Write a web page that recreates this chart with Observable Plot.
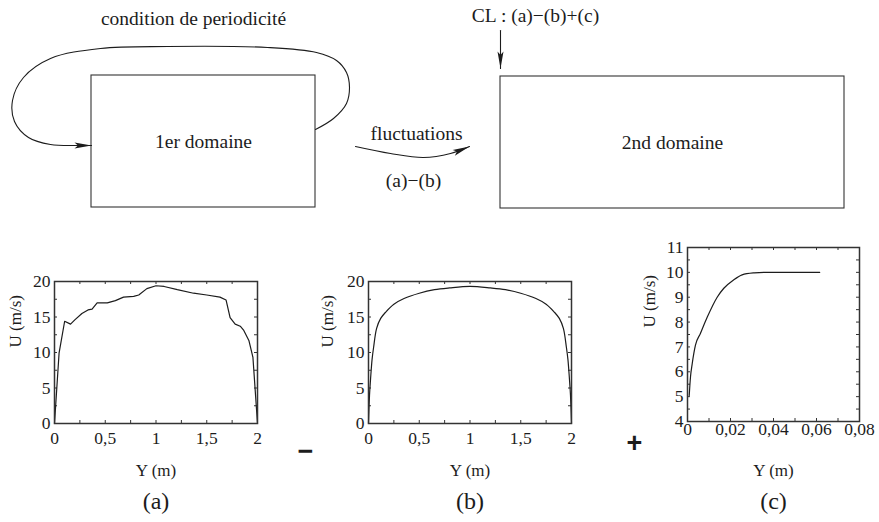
<!DOCTYPE html>
<html>
<head>
<meta charset="utf-8">
<script src="https://cdn.jsdelivr.net/npm/d3@7"></script>
<script src="https://cdn.jsdelivr.net/npm/@observablehq/plot@0.6"></script>
<style>
  body { margin: 0; background: #fff; }
  #fig { position: relative; width: 879px; height: 522px; background: #fff; overflow: hidden; }
  #fig svg { position: absolute; }
</style>
</head>
<body>
<div id="fig"></div>
<script>
// ---- Velocity profiles ----------------------------------------------------
// (a) instantaneous profile from the periodic (1st) domain
const profileA_Y = [0, 0.045, 0.1, 0.158, 0.2, 0.27, 0.33, 0.37, 0.42, 0.52, 0.6, 0.68, 0.78, 0.83, 0.91, 1.0, 1.08, 1.21, 1.37, 1.5, 1.63, 1.69, 1.73, 1.78, 1.83, 1.865, 1.915, 1.955, 2.0];
const profileA_U = [0, 9.9, 14.4, 14.0, 14.6, 15.5, 16.0, 16.1, 17.0, 17.0, 17.3, 17.8, 17.9, 18.1, 19.0, 19.4, 19.3, 18.85, 18.35, 18.1, 17.8, 17.4, 14.9, 14.0, 13.7, 13.1, 11.7, 9.3, 0];

// (b) mean profile
const profileB_Y = [0, 0.01, 0.02, 0.035, 0.05, 0.08, 0.12, 0.17, 0.25, 0.35, 0.5, 0.65, 0.8, 1.0, 1.2, 1.35, 1.5, 1.65, 1.75, 1.83, 1.88, 1.92, 1.95, 1.965, 1.98, 1.99, 2.0];
const profileB_U = [0, 4.0, 6.2, 9.0, 10.7, 13.4, 14.8, 15.7, 16.8, 17.6, 18.35, 18.85, 19.1, 19.3, 19.1, 18.85, 18.35, 17.6, 16.8, 15.7, 14.8, 13.4, 10.7, 9.0, 6.2, 4.0, 0];

// (c) inflow boundary-layer profile
const profileC_Y = [0.0008, 0.0014, 0.0022, 0.0037, 0.006, 0.0092, 0.0138, 0.0169, 0.0215, 0.0254, 0.031, 0.036, 0.045, 0.0615];
const profileC_U = [5.05, 5.8, 6.33, 7.07, 7.54, 8.2, 9.0, 9.36, 9.7, 9.9, 9.98, 10.0, 10.0, 10.0];

// Axis ticks
const ticksAB_x = [0, 0.5, 1, 1.5, 2];
const minorAB_x = [0, 0.25, 0.5, 0.75, 1, 1.25, 1.5, 1.75, 2];
const ticksAB_y = [0, 5, 10, 15, 20];
const minorAB_y = [0, 2.5, 5, 7.5, 10, 12.5, 15, 17.5, 20];
const ticksC_x = [0, 0.02, 0.04, 0.06, 0.08];
const minorC_x = [0, 0.01, 0.02, 0.03, 0.04, 0.05, 0.06, 0.07, 0.08];
const ticksC_y = [4, 5, 6, 7, 8, 9, 10, 11];
const minorC_y = [4, 4.5, 5, 5.5, 6, 6.5, 7, 7.5, 8, 8.5, 9, 9.5, 10, 10.5, 11];

// ---- Schematic of the two computational domains ---------------------------
const domainBoxes = [
  {label: "1er domaine", x1: 91, x2: 315, y1: 75, y2: 207},
  {label: "2nd domaine", x1: 500, x2: 844, y1: 76, y2: 208}
];
const periodicLoop = [
  [315, 129], [333, 118], [346, 103], [349, 87], [346, 72], [336, 60], [316, 52],
  [267, 47], [167, 46], [100, 48], [50, 58], [23, 77], [12, 100], [14, 121],
  [28, 137], [50, 144], [80, 145], [91, 145]
];
const fluctuationPath = [[355, 146], [390, 153], [423, 157], [450, 153], [469, 146]];
const inflowPath = [[500, 30], [500, 68]];
const arrowTips = [
  {x: 91, y: 145, angle: 0},
  {x: 469, y: 146, angle: -22},
  {x: 500, y: 68, angle: 90}
];
const schematicLabels = [
  {text: "condition de periodicité", x: 193, y: 18},
  {text: "CL : (a)−(b)+(c)", x: 535, y: 15},
  {text: "fluctuations", x: 416, y: 133},
  {text: "(a)−(b)", x: 413, y: 180}
];

const ink = "#1c1c1c";
const serif = "'Liberation Serif', 'Times New Roman', serif";

// Slim filled arrowhead, tip at the origin pointing along +x
const arrowHead = {
  draw(context) {
    context.moveTo(0, 0);
    context.lineTo(-17, -3);
    context.lineTo(-13.5, 0);
    context.lineTo(-17, 3);
    context.closePath();
  }
};

const fig = document.getElementById("fig");

const schematic = Plot.plot({
  width: 879,
  height: 240,
  margin: 0,
  x: {domain: [0, 879], range: [0, 879]},
  y: {domain: [0, 240], range: [0, 240]},
  axis: null,
  style: {fontFamily: serif, fontSize: "19.5px", color: ink, background: "transparent"},
  marks: [
    Plot.rect(domainBoxes, {x1: "x1", x2: "x2", y1: "y1", y2: "y2", fill: "none", stroke: "#333", strokeWidth: 1.1}),
    Plot.text(domainBoxes, {x: d => (d.x1 + d.x2) / 2, y: d => (d.y1 + d.y2) / 2, text: "label", fill: ink}),
    Plot.line(periodicLoop, {x: d => d[0], y: d => d[1], curve: "catmull-rom", stroke: ink, strokeWidth: 1.1}),
    Plot.line(fluctuationPath, {x: d => d[0], y: d => d[1], curve: "catmull-rom", stroke: ink, strokeWidth: 1.1}),
    Plot.line(inflowPath, {x: d => d[0], y: d => d[1], stroke: ink, strokeWidth: 1.1}),
    Plot.dot(arrowTips, {x: "x", y: "y", rotate: "angle", symbol: arrowHead, fill: ink, stroke: "none"}),
    Plot.text(schematicLabels, {x: "x", y: "y", text: "text", fill: ink})
  ]
});
schematic.style.left = "0px";
schematic.style.top = "0px";
fig.append(schematic);

// ---- One framed profile panel ---------------------------------------------
function panel({Y, U, curve, xDomain, yDomain, xTicks, xMinor, yTicks, yMinor,
                left, top, width, height, margins, xPad, yLabelDx, yLabelDy,
                captionDy, caption, sign}) {
  const [mt, mr, mb, ml] = margins;
  const fw = width - ml - mr;
  const fh = height - mt - mb;
  const rows = Y.map((y, i) => ({y, u: U[i]}));
  const comma = d => String(d).replace(".", ",");
  const tickLen = 3;
  const marks = [
    Plot.tickX(xMinor, {x: d => d, insetTop: fh - tickLen, stroke: "#333"}),
    Plot.tickX(xMinor, {x: d => d, insetBottom: fh - tickLen, stroke: "#333"}),
    Plot.tickY(yMinor, {y: d => d, insetRight: fw - tickLen, stroke: "#333"}),
    Plot.tickY(yMinor, {y: d => d, insetLeft: fw - tickLen, stroke: "#333"}),
    Plot.axisX(xTicks, {tickSize: 0, tickPadding: xPad, tickFormat: comma, label: null, fill: ink}),
    Plot.axisY(yTicks, {tickSize: 0, tickPadding: 4, tickFormat: comma, label: null, fill: ink}),
    Plot.line(rows, {x: "y", y: "u", curve, stroke: ink, strokeWidth: 1.2}),
    Plot.frame({stroke: "#333", strokeWidth: 1.5}),
    Plot.text(["Y (m)"], {frameAnchor: "bottom", dy: captionDy[0], fontSize: 17, fill: ink}),
    Plot.text(["U (m/s)"], {frameAnchor: "left", rotate: -90, dx: yLabelDx, dy: yLabelDy, fontSize: 17, fill: ink}),
    Plot.text([caption], {frameAnchor: "bottom", dy: captionDy[1], fontSize: 24, fill: ink})
  ];
  if (sign) {
    marks.push(Plot.text([sign.text], {frameAnchor: "bottom-left", textAnchor: "middle", lineAnchor: "middle",
      dx: sign.dx, dy: sign.dy, fontSize: 27, fontWeight: "bold",
      fontFamily: "'Liberation Sans', Arial, sans-serif", fill: ink}));
  }
  const svg = Plot.plot({
    width, height,
    marginTop: mt, marginRight: mr, marginBottom: mb, marginLeft: ml,
    x: {domain: xDomain},
    y: {domain: yDomain},
    style: {fontFamily: serif, fontSize: "17.5px", color: ink, background: "transparent", overflow: "visible"},
    marks
  });
  svg.style.left = left + "px";
  svg.style.top = top + "px";
  fig.append(svg);
}

panel({
  Y: profileA_Y, U: profileA_U, curve: "linear",
  xDomain: [0, 2], yDomain: [0, 20],
  xTicks: ticksAB_x, xMinor: minorAB_x, yTicks: ticksAB_y, yMinor: minorAB_y,
  left: 0, top: 240, width: 300, height: 282, margins: [41, 43, 99, 54],
  xPad: 8, yLabelDx: -39, yLabelDy: -5, captionDy: [52, 85], caption: "(a)"
});

panel({
  Y: profileB_Y, U: profileB_U, curve: "catmull-rom",
  xDomain: [0, 2], yDomain: [0, 20],
  xTicks: ticksAB_x, xMinor: minorAB_x, yTicks: ticksAB_y, yMinor: minorAB_y,
  left: 300, top: 240, width: 300, height: 282, margins: [41, 29, 99, 68],
  xPad: 8, yLabelDx: -41, yLabelDy: -5, captionDy: [52, 85], caption: "(b)",
  sign: {text: "−", dx: -63, dy: 28}
});

panel({
  Y: profileC_Y, U: profileC_U, curve: "monotone-x",
  xDomain: [0, 0.08], yDomain: [4, 11],
  xTicks: ticksC_x, xMinor: minorC_x, yTicks: ticksC_y, yMinor: minorC_y,
  left: 600, top: 240, width: 279, height: 282, margins: [7, 20, 101, 87],
  xPad: 1, yLabelDx: -38, yLabelDy: -7, captionDy: [54, 87], caption: "(c)",
  sign: {text: "+", dx: -53, dy: 22}
});
</script>
</body>
</html>
